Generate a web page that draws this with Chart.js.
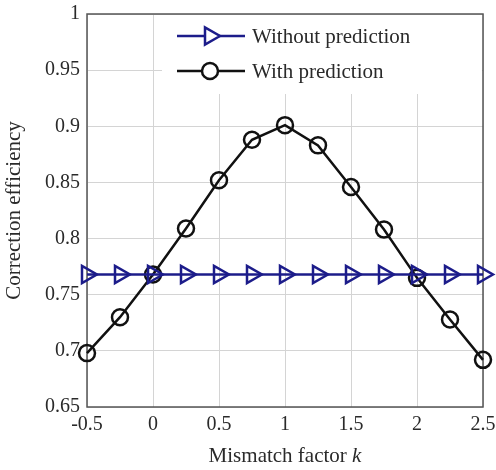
<!DOCTYPE html>
<html>
<head>
<meta charset="utf-8">
<script src="https://cdn.jsdelivr.net/npm/chart.js@4"></script>
<style>
  html, body { margin: 0; padding: 0; background: #fff; }
  #wrap { width: 496px; height: 470px; }
</style>
</head>
<body>
<div id="wrap"><canvas id="chart" width="496" height="470"></canvas></div>
<script>
// mismatch factor k
const kValues = [-0.5, -0.25, 0, 0.25, 0.5, 0.75, 1, 1.25, 1.5, 1.75, 2, 2.25, 2.5];
const withoutPrediction = [0.768, 0.768, 0.768, 0.768, 0.768, 0.768, 0.768, 0.768, 0.768, 0.768, 0.768, 0.768, 0.768];
const withPrediction = [0.698, 0.730, 0.768, 0.809, 0.852, 0.888, 0.901, 0.883, 0.846, 0.808, 0.765, 0.728, 0.692];
const seriesNames = ['Without prediction', 'With prediction'];
const xTitle = ['Mismatch factor ', 'k'];
const yTitle = 'Correction efficiency';

const FONT = "'Liberation Serif', 'DejaVu Serif', serif";
const BLUE = '#1c1c8a';
const TEXT = '#2a2a2a';

const toPoints = ys => kValues.map((k, i) => ({ x: k, y: ys[i] }));

// box round the plot + white legend panel + italic k in the x title
const decor = {
  id: 'decor',
  beforeDatasetsDraw(chart) {
    const { ctx, chartArea: a } = chart;
    ctx.save();
    // legend panel hides the grid
    ctx.fillStyle = '#fff';
    ctx.fillRect(162, a.top + 1, a.right - 163, 93 - a.top);
    ctx.strokeStyle = '#555';
    ctx.lineWidth = 1.5;
    ctx.strokeRect(a.left, a.top, a.right - a.left, a.bottom - a.top);
    ctx.restore();
  },
  afterDatasetsDraw(chart) {
    const { ctx, chartArea: a } = chart;
    ctx.save();
    // legend entries
    const rows = [36, 71];
    chart.data.datasets.forEach((ds, i) => {
      const y = rows[i];
      ctx.strokeStyle = ds.borderColor;
      ctx.lineWidth = ds.borderWidth;
      ctx.beginPath();
      ctx.moveTo(177, y);
      ctx.lineTo(245, y);
      ctx.stroke();
      ctx.fillStyle = '#fff';
      Chart.helpers.drawPoint(ctx, {
        pointStyle: ds.pointStyle, rotation: ds.rotation, radius: ds.pointRadius, borderWidth: ds.pointBorderWidth
      }, 210, y);
      ctx.fillStyle = TEXT;
      ctx.font = '21px ' + FONT;
      ctx.textBaseline = 'middle';
      ctx.textAlign = 'left';
      ctx.fillText(seriesNames[i], 252, y + 1);
    });
    // x axis title with italic k
    ctx.fillStyle = TEXT;
    ctx.textBaseline = 'middle';
    ctx.font = '21px ' + FONT;
    const w1 = ctx.measureText(xTitle[0]).width;
    ctx.font = 'italic 21px ' + FONT;
    const w2 = ctx.measureText(xTitle[1]).width;
    let x = (a.left + a.right) / 2 - (w1 + w2) / 2;
    ctx.textAlign = 'left';
    ctx.font = '21px ' + FONT;
    ctx.fillText(xTitle[0], x, 456);
    ctx.font = 'italic 21px ' + FONT;
    ctx.fillText(xTitle[1], x + w1, 456);
    ctx.restore();
  }
};

const noPad = s => { s.paddingLeft = 0; s.paddingRight = 0; s.paddingTop = 0; s.paddingBottom = 0; };

new Chart(document.getElementById('chart'), {
  type: 'line',
  data: {
    datasets: [
      {
        label: seriesNames[0],
        data: toPoints(withoutPrediction),
        borderColor: BLUE,
        borderWidth: 2.5,
        pointStyle: 'triangle',
        rotation: 90,
        pointRadius: 10,
        pointBorderWidth: 2.5,
        pointBorderColor: BLUE,
        pointBackgroundColor: 'rgba(0,0,0,0)',
        clip: false
      },
      {
        label: seriesNames[1],
        data: toPoints(withPrediction),
        borderColor: '#111',
        borderWidth: 2.5,
        pointStyle: 'circle',
        rotation: 0,
        pointRadius: 8,
        pointBorderWidth: 2.5,
        pointBorderColor: '#111',
        pointBackgroundColor: 'rgba(0,0,0,0)',
        clip: false
      }
    ]
  },
  options: {
    responsive: false,
    animation: false,
    layout: { padding: { top: 14, right: 13, left: 0, bottom: 0 } },
    plugins: { legend: { display: false }, tooltip: { enabled: false } },
    scales: {
      x: {
        type: 'linear',
        min: -0.5, max: 2.5,
        afterFit(s) { s.height = 63; noPad(s); },
        border: { display: false },
        grid: { color: '#d4d4d4', lineWidth: 1, drawTicks: false },
        ticks: {
          stepSize: 0.5, padding: 6, color: TEXT, font: { family: FONT, size: 20 },
          callback: v => String(+v.toFixed(2))
        }
      },
      y: {
        min: 0.65, max: 1,
        afterFit(s) { s.width = 87; noPad(s); },
        border: { display: false },
        grid: { color: '#d4d4d4', lineWidth: 1, drawTicks: false },
        ticks: {
          stepSize: 0.05, padding: 7, color: TEXT, font: { family: FONT, size: 20 },
          callback: v => String(+v.toFixed(2))
        },
        title: { display: true, text: yTitle, color: TEXT, padding: { top: 2, bottom: 2 }, font: { family: FONT, size: 21 } }
      }
    }
  },
  plugins: [decor]
});
</script>
</body>
</html>
